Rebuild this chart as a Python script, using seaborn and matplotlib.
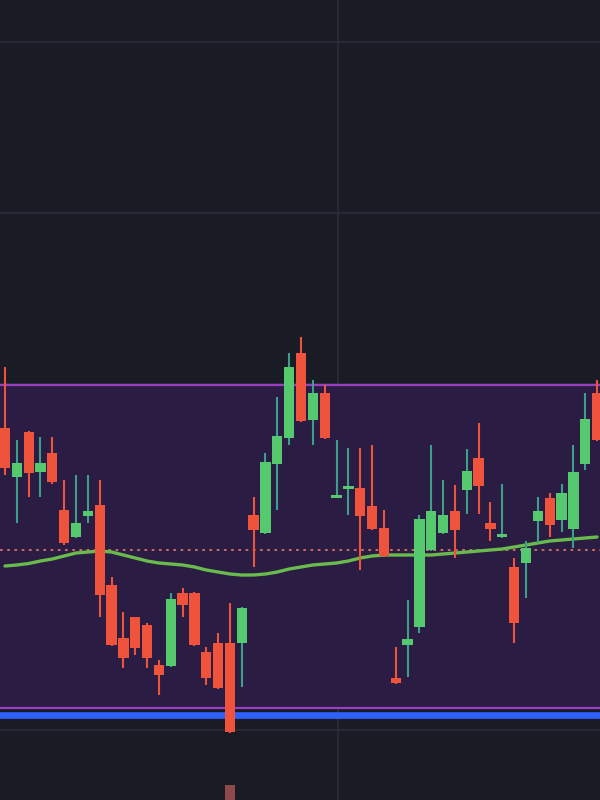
import numpy as np
import pandas as pd
import matplotlib
matplotlib.use("Agg")
import matplotlib.pyplot as plt
import seaborn as sns

# OHLC candles (price units)
opens = [137.2, 132.3, 136.8, 132.8, 134.7, 129.0, 126.3, 128.4, 129.5, 121.5,
         116.2, 118.3, 117.5, 113.5, 113.4, 120.7, 120.7, 114.8, 115.7, 115.7,
         115.7, 128.5, 126.7, 133.6, 136.2, 144.7, 138.0, 140.7, 130.2, 131.1,
         131.2, 129.4, 127.2, 112.2, 115.5, 117.3, 125.0, 126.7, 128.9, 131.0,
         134.2, 127.7, 126.3, 123.3, 123.7, 127.9, 130.2, 128.0, 127.1, 133.6,
         140.7]
highs = [143.3, 136.0, 136.9, 136.3, 136.3, 132.0, 132.5, 132.5, 132.0, 122.3,
         118.8, 118.3, 117.7, 114.0, 120.7, 121.2, 120.8, 115.3, 116.7, 119.7,
         119.3, 130.3, 134.7, 140.3, 144.7, 146.3, 142.0, 141.5, 136.0, 135.2,
         135.2, 135.5, 129.0, 115.3, 120.0, 128.5, 135.5, 132.0, 131.5, 135.1,
         137.7, 129.8, 131.6, 124.2, 125.9, 130.3, 130.7, 131.6, 135.5, 140.7,
         142.0]
lows = [132.5, 127.7, 130.3, 130.3, 131.6, 125.5, 126.2, 127.7, 118.3, 115.4,
        113.2, 114.5, 113.2, 110.5, 113.3, 118.3, 115.4, 111.5, 111.1, 106.7,
        111.3, 123.3, 126.6, 129.0, 135.5, 137.8, 135.5, 136.1, 130.2, 128.5,
        123.0, 127.0, 124.3, 111.6, 112.3, 116.7, 124.9, 126.6, 124.2, 128.6,
        128.6, 125.9, 126.2, 115.7, 120.2, 125.7, 126.3, 126.8, 125.2, 133.0,
        135.9]
closes = [133.2, 133.7, 132.7, 133.7, 131.8, 125.7, 127.7, 128.9, 120.5, 115.5,
          114.2, 115.2, 114.2, 112.5, 120.1, 119.5, 115.5, 112.2, 111.2, 106.8,
          119.2, 127.0, 133.8, 136.4, 143.3, 137.9, 140.7, 136.2, 130.4, 131.3,
          128.4, 127.1, 124.4, 111.7, 116.1, 128.1, 128.9, 128.5, 127.0, 132.9,
          131.4, 127.1, 126.4, 117.7, 125.2, 128.9, 127.5, 130.7, 132.8, 138.1,
          136.0]
ma = [123.4, 123.5, 123.65, 123.9, 124.1, 124.4, 124.7, 124.8, 124.9, 124.8,
      124.5, 124.2, 123.9, 123.7, 123.6, 123.5, 123.3, 123.0, 122.8, 122.6,
      122.5, 122.5, 122.6, 122.8, 123.1, 123.3, 123.5, 123.6, 123.7, 123.9,
      124.2, 124.4, 124.5, 124.5, 124.5, 124.5, 124.5, 124.6, 124.7, 124.8,
      124.9, 125.0, 125.1, 125.3, 125.5, 125.7, 125.9, 126.0, 126.1, 126.2,
      126.3]

# levels
range_top = 141.5
range_bottom = 109.2
support = 108.5
dotted_level = 125.0
grid_levels = [175.8, 158.7, 141.6, 124.5, 107.0]
vol_index = [19]
vol_value = [1.5]

BG = "#191b25"
RED = "#f0533c"
GREEN = "#55c96e"
GREEN_WICK = "#3d9e8c"

sns.set_theme(style="dark", rc={"axes.facecolor": BG, "figure.facecolor": BG})

df = pd.DataFrame({"open": opens, "high": highs, "low": lows,
                   "close": closes, "ma": ma})
df["idx"] = np.arange(len(df))
df["up"] = df["close"] >= df["open"]

fig = plt.figure(figsize=(6, 8), dpi=100)
ax = fig.add_axes([0, 0, 1, 1])
ax.set_facecolor(BG)

# grid
for g in grid_levels:
    ax.axhline(g, color="#2b2d38", lw=1.2, zorder=0)
ax.axvline(28.1, color="#2b2d38", lw=1.2, zorder=0)

# range box
ax.axhspan(range_bottom, range_top, color="#2c1d44", alpha=0.95, lw=0, zorder=1)
ax.axhline(range_top, color="#9b3fc2", lw=1.6, zorder=2)
ax.axhline(range_bottom, color="#9b3fc2", lw=1.6, zorder=2)
ax.axhline(support, color="#2f5fff", lw=4.8, zorder=2)
ax.axhline(dotted_level, color="#d9706a", lw=1.3, ls=(0, (1.5, 2.5)), zorder=2)

# moving average
sns.lineplot(data=df, x="idx", y="ma", color="#68bb4c", lw=2.4, ax=ax, zorder=3)

# candles
for up, wick_col, body_col in [(True, GREEN_WICK, GREEN), (False, RED, RED)]:
    d = df[df["up"] == up]
    ax.vlines(d["idx"], d["low"], d["high"], color=wick_col, lw=1.5, zorder=4)
    lo = np.minimum(d["open"], d["close"])
    h = np.maximum(np.abs(d["close"] - d["open"]), 0.35)
    ax.bar(d["idx"], h, bottom=lo, width=0.87, color=body_col, lw=0, zorder=5)

# volume
ax.bar(vol_index, vol_value, bottom=100, width=0.85, color="#8e4a4a", lw=0, zorder=5)

ax.set_xlim(-0.42, 50.25)
ax.set_ylim(100, 180)
ax.set_xlabel("")
ax.set_ylabel("")
ax.set_xticks([])
ax.set_yticks([])
for s in ax.spines.values():
    s.set_visible(False)
if ax.get_legend():
    ax.get_legend().remove()

fig.savefig("out.png", dpi=100, facecolor=BG)
